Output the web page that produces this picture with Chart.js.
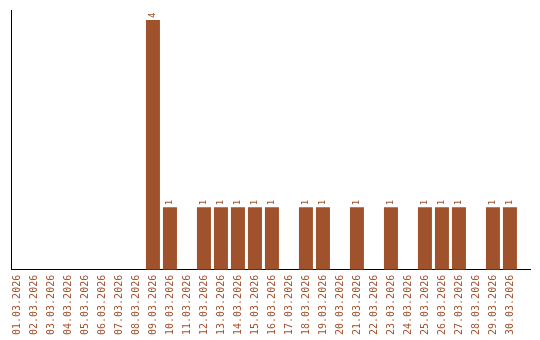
<!DOCTYPE html>
<html>
<head>
<meta charset="utf-8">
<script src="https://cdn.jsdelivr.net/npm/chart.js@4/dist/chart.umd.min.js"></script>
<style>
  html, body { margin: 0; padding: 0; background: #fff; }
  #wrap { width: 540px; height: 340px; }
</style>
</head>
<body>
<div id="wrap"><canvas id="dayChart"></canvas></div>
<script>
const days = [
    '01.03.2026','02.03.2026','03.03.2026','04.03.2026','05.03.2026',
    '06.03.2026','07.03.2026','08.03.2026','09.03.2026','10.03.2026',
    '11.03.2026','12.03.2026','13.03.2026','14.03.2026','15.03.2026',
    '16.03.2026','17.03.2026','18.03.2026','19.03.2026','20.03.2026',
    '21.03.2026','22.03.2026','23.03.2026','24.03.2026','25.03.2026',
    '26.03.2026','27.03.2026','28.03.2026','29.03.2026','30.03.2026'
];
const counts = [0,0,0,0,0,0,0,0,4,1,0,1,1,1,1,1,0,1,1,0,1,0,1,0,1,1,1,0,1,1];

const brown = '#a0522d';

// value labels above the bars, turned upright like the axis labels
const barValues = {
    id: 'barValues',
    afterDatasetsDraw(chart) {
        const ctx = chart.ctx;
        const meta = chart.getDatasetMeta(0);
        ctx.save();
        ctx.fillStyle = brown;
        ctx.font = '9px "DejaVu Sans Mono"';
        ctx.textAlign = 'left';
        ctx.textBaseline = 'middle';
        meta.data.forEach(function (bar, i) {
            if (!counts[i]) return;
            ctx.save();
            ctx.translate(bar.x, bar.y - 2);
            ctx.rotate(-Math.PI / 2);
            ctx.fillText(String(counts[i]), 0, 0);
            ctx.restore();
        });
        ctx.restore();
    }
};

new Chart(document.getElementById('dayChart'), {
    type: 'bar',
    data: {
        datasets: [{
            data: counts.map(function (v, i) { return { x: i, y: v }; }),
            backgroundColor: brown,
            barPercentage: 14 / 17,
            categoryPercentage: 1
        }]
    },
    options: {
        responsive: true,
        maintainAspectRatio: false,
        animation: false,
        layout: { padding: { left: 11, right: 10, top: 10, bottom: 0 } },
        plugins: { legend: { display: false }, tooltip: { enabled: false } },
        scales: {
            x: {
                type: 'linear',
                min: -0.35,
                max: 30.18,
                offset: false,
                grid: { display: false, drawTicks: false },
                border: { color: '#000', width: 1 },
                afterFit: function (scale) {
                    scale.paddingLeft = 0;
                    scale.paddingRight = 0;
                },
                ticks: {
                    stepSize: 1,
                    includeBounds: false,
                    color: brown,
                    font: { family: 'DejaVu Sans Mono', size: 10 },
                    minRotation: 90,
                    maxRotation: 90,
                    autoSkip: false,
                    padding: 5,
                    callback: function (v) { return days[v] || ''; }
                }
            },
            y: {
                beginAtZero: true,
                max: 4.16,
                grid: { display: false, drawTicks: false },
                border: { color: '#000', width: 1 },
                ticks: { display: false }
            }
        }
    },
    plugins: [barValues]
});
</script>
</body>
</html>
